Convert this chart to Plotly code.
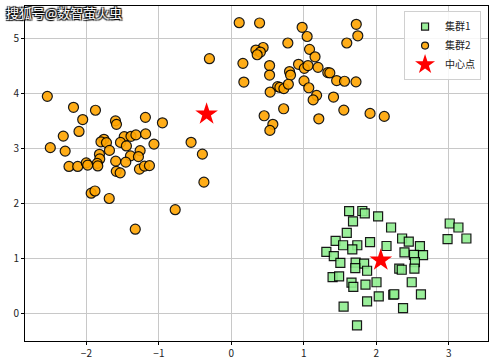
import plotly.graph_objects as go

# Cluster 1 (green squares)
c1_x = [1.624, 1.806, 1.840, 2.024, 1.678, 2.203, 1.592, 3.012, 3.132, 2.982,
        3.242, 1.438, 1.913, 1.541, 1.737, 1.668, 2.140, 2.355, 2.447, 2.601,
        1.310, 1.413, 2.388, 2.519, 2.644, 1.503, 1.714, 1.831, 1.709, 1.872,
        2.532, 2.525, 2.316, 2.350, 1.396, 1.486, 1.657, 1.682, 1.850, 2.002,
        2.488, 2.033, 2.233, 2.247, 2.615, 1.548, 1.872, 2.368, 1.733]
c1_y = [1.865, 1.868, 1.823, 1.770, 1.678, 1.569, 1.471, 1.641, 1.569, 1.356,
        1.369, 1.325, 1.302, 1.247, 1.247, 1.171, 1.233, 1.369, 1.314, 1.229,
        1.126, 1.048, 1.117, 1.071, 1.066, 0.926, 0.930, 0.915, 0.833, 0.784,
        0.942, 0.821, 0.821, 0.802, 0.670, 0.681, 0.570, 0.490, 0.534, 0.576,
        0.576, 0.321, 0.349, 0.358, 0.354, 0.134, 0.227, 0.107, -0.205]

# Cluster 2 (orange circles)
c2_x = [0.108, 0.389, 0.976, 1.723, 1.045, 1.744, 0.779, 1.592, 0.438, 0.338,
        0.400, 0.356, 1.078, -0.303, 0.159, 0.172, 0.527, 0.926, 1.006, 1.057,
        1.154, 1.195, 0.802, 0.816, 0.527, 1.330, 1.358, 1.002, 1.068, 1.452,
        1.561, 1.719, 0.638, 0.669, 0.724, 0.786, 0.535, 1.176, 1.128, 1.409,
        0.721, 1.551, 1.913, 2.109, 1.206, 0.452, 0.572, 0.531,
        -2.539, -2.178, -1.875, -2.051, -1.599, -1.585, -1.186, -0.951, -2.102, -2.319,
        -1.478, -1.385, -1.317, -1.183, -1.758, -1.799, -1.723, -1.530, -1.448, -1.068,
        -2.498, -2.293, -1.682, -1.259, -1.820, -1.816, -1.392, -1.282, -2.240, -2.120,
        -2.002, -1.982, -1.851, -1.843, -1.596, -1.457, -1.588, -1.534, -1.268, -1.199,
        -1.130, -0.556, -0.400, -0.379, -1.934, -1.882, -1.685, -0.775, -1.326]
c2_y = [5.283, 5.278, 5.200, 5.254, 5.033, 5.045, 4.915, 4.915, 4.833, 4.787,
        4.751, 4.702, 4.800, 4.630, 4.546, 4.207, 4.506, 4.528, 4.455, 4.506,
        4.664, 4.473, 4.397, 4.334, 4.334, 4.379, 4.373, 4.228, 4.103, 4.234,
        4.221, 4.210, 4.123, 4.110, 4.088, 4.167, 4.025, 3.965, 3.883, 3.934,
        3.722, 3.698, 3.638, 3.584, 3.540, 3.595, 3.440, 3.330,
        3.947, 3.749, 3.695, 3.526, 3.502, 3.439, 3.566, 3.468, 3.311, 3.226,
        3.217, 3.223, 3.248, 3.266, 3.168, 3.123, 3.108, 3.112, 3.048, 3.081,
        3.017, 2.954, 2.967, 2.963, 2.896, 2.812, 2.868, 2.854, 2.676, 2.676,
        2.741, 2.700, 2.732, 2.685, 2.772, 2.754, 2.587, 2.560, 2.627, 2.682,
        2.691, 3.114, 2.899, 2.391, 2.191, 2.231, 2.095, 1.892, 1.538]

# Cluster centres
center_x = [2.061, -0.342]
center_y = [0.975, 3.626]

series_names = ["集群1", "集群2", "中心点"]

x_ticks = [-2, -1, 0, 1, 2, 3]
x_tick_labels = ["\u22122", "\u22121", "0", "1", "2", "3"]
y_ticks = [0, 1, 2, 3, 4, 5]
y_tick_labels = ["0", "1", "2", "3", "4", "5"]

font_family = "Noto Sans CJK SC, DejaVu Sans, sans-serif"

sq_style = dict(symbol="square", color="#90EE90", opacity=0.9, line=dict(color="black", width=1.2))
ci_style = dict(symbol="circle", color="#FFA500", opacity=0.9, line=dict(color="black", width=1.2))
st_style = dict(symbol="star", color="red", line=dict(width=0))

fig = go.Figure()
fig.add_trace(go.Scatter(x=c1_x, y=c1_y, mode="markers", name=series_names[0],
                         showlegend=False, marker=dict(size=9, **sq_style)))
fig.add_trace(go.Scatter(x=c2_x, y=c2_y, mode="markers", name=series_names[1],
                         showlegend=False, marker=dict(size=10, **ci_style)))
fig.add_trace(go.Scatter(x=center_x, y=center_y, mode="markers", name=series_names[2],
                         showlegend=False, marker=dict(size=17, **st_style)))

# legend entries (smaller symbols as in the reference legend)
for nm, st, sz in zip(series_names, [sq_style, ci_style, st_style], [7, 7, 15]):
    fig.add_trace(go.Scatter(x=[None], y=[None], mode="markers", name=nm,
                             marker=dict(size=sz, **st)))

axis_common = dict(
    showgrid=True, gridcolor="#c8c8c8", gridwidth=1, automargin=False,
    zeroline=False, showline=True, linecolor="black", linewidth=1, mirror=True,
    ticks="outside", ticklen=3, tickcolor="black",
    tickfont=dict(size=10, color="#222", family=font_family),
)

fig.update_layout(
    width=500, height=364,
    margin=dict(l=25, r=12, t=6, b=23),
    paper_bgcolor="white", plot_bgcolor="white",
    font=dict(family=font_family, size=10, color="#222"),
    xaxis=dict(range=[-2.847, 3.540], tickvals=x_ticks, ticktext=x_tick_labels, **axis_common),
    yaxis=dict(range=[-0.490, 5.586], tickvals=y_ticks, ticktext=y_tick_labels, **axis_common),
    legend=dict(x=0.985, y=0.985, xanchor="right", yanchor="top",
                bgcolor="rgba(255,255,255,0.85)", bordercolor="#d0d0d0", borderwidth=1,
                font=dict(size=10, family=font_family), itemsizing="trace",
                tracegroupgap=0, itemwidth=30),
    showlegend=True,
    annotations=[dict(
        text="搜狐号@数智萤火虫", xref="paper", yref="paper", x=-0.045, y=1.015,
        xanchor="left", yanchor="top", showarrow=False,
        font=dict(size=13, color="white", family=font_family,
                  shadow="1px 1px 1px #000, -1px -1px 1px #000, 1px -1px 1px #000, -1px 1px 1px #000"))],
)

fig.write_html("out.html", config={"displayModeBar": False},
               post_script="document.body.style.margin='0px';document.body.style.overflow='hidden';")
